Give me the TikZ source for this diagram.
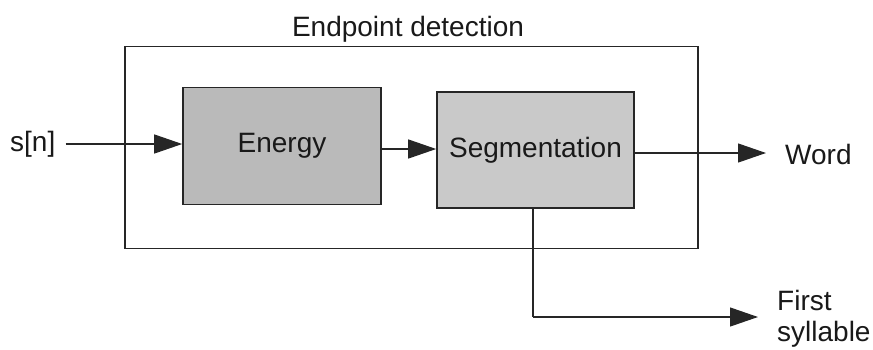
\documentclass[tikz,border=0pt]{standalone}
\usepackage{fontspec}
\setmainfont{Liberation Sans}
\usetikzlibrary{arrows.meta}
\begin{document}
\begin{tikzpicture}[x=1pt,y=-1pt,
  lbl/.style={font=\fontsize{28}{31}\selectfont, inner sep=0pt, text=black!90},
  blk/.style={draw=black!85, line width=1.6pt, minimum width=198pt, minimum height=117pt, inner sep=0pt, font=\fontsize{28}{31}\selectfont, text=black!90},
  frame/.style={draw=black!85, line width=1.1pt, minimum width=573pt, minimum height=202pt, inner sep=0pt},
  arr/.style={draw=black!85, line width=1.2pt, -{Triangle[length=28pt,width=19pt]}},
  wire/.style={draw=black!85, line width=1.2pt}
]
\useasboundingbox (0,0) rectangle (873,349);
\node[frame] (outer) at (411.5,147.5) {};
\node[lbl] (title) at (408,29) {Endpoint detection};
\node[blk, fill=black!27] (energy) at (282,146) {Energy};
\node[blk, fill=black!21, minimum width=197pt, minimum height=116pt] (seg) at (535.5,150) {Segmentation};
\node[lbl, anchor=west] (sn) at (10,144) {s[n]};
\node[lbl, anchor=west] (word) at (785,154) {Word};
\node[lbl, anchor=west, align=left] (first) at (777,319) {First\\syllable};
\coordinate (down) at (533,317);
\coordinate (fsend) at (758,317);

\draw[arr] ([xshift=10pt]sn.east) -- (energy.west |- sn.east);
\draw[arr] (energy.east |- 0,149) -- (seg.west |- 0,149);
\draw[arr] (seg.east |- 0,153) -- ([xshift=-19pt]word.west |- 0,153);
\draw[wire] (seg.south -| down) -- (down);
\draw[arr] (down) -- (fsend);
\end{tikzpicture}
\end{document}
